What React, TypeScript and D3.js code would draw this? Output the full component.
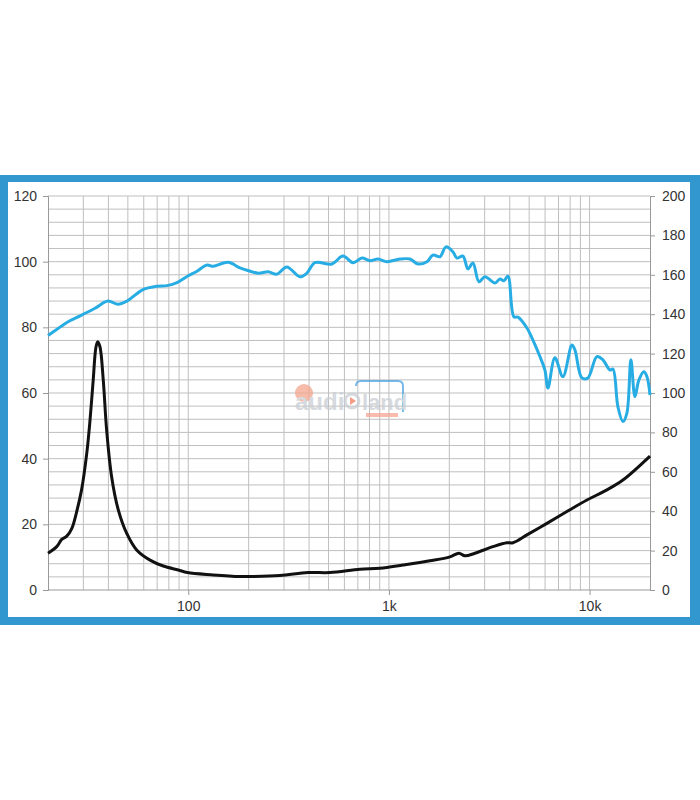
import React, { useEffect, useRef } from "react";
import * as d3 from "d3";

// frequency response (dB, left axis)
const splFreq = [20, 23.5, 25.7, 28.9, 34.3, 39.8, 44.7, 49.5, 59.5, 69.8, 78.3, 87.9, 100, 110, 124, 133, 158, 181, 198, 223, 250, 277, 310, 360, 390, 428, 520, 590, 662, 734, 804, 882, 978, 1135, 1273, 1395, 1547, 1657, 1796, 1924, 2084, 2182, 2338, 2476, 2622, 2809, 3010, 3375, 3574, 3743, 3919, 4197, 4395, 4872, 5220, 5656, 5990, 6198, 6718, 7362, 8166, 8452, 9158, 9812, 10876, 11652, 12626, 13070, 13842, 14656, 15344, 16066, 16822, 17610, 18648, 19302, 20000];
const splValue = [77.5, 80.5, 82, 83.5, 85.8, 88, 87, 88, 91.5, 92.5, 92.7, 93.6, 95.7, 97, 99, 98.6, 99.8, 98.1, 97.3, 96.5, 96.9, 96.2, 98.4, 95.4, 96.5, 99.7, 99.3, 101.7, 99.7, 101.1, 100.3, 100.8, 100, 100.8, 100.8, 99.3, 100, 102, 101.5, 104.5, 103, 101.1, 101.7, 97.8, 99.6, 93.9, 95.4, 93.5, 94.7, 94.2, 95.6, 83.2, 83.1, 79.8, 76.1, 71.1, 67, 61.5, 70.7, 65, 74.6, 73.1, 64.6, 64.6, 71.1, 70.1, 67, 67.3, 55.8, 51.3, 53.9, 70.1, 58.9, 64, 66.5, 65, 59.4];

// impedance curve (left axis units)
const impFreq = [20, 22.1, 23.4, 24.8, 26.3, 27.8, 29.4, 31.2, 32.4, 33.6, 34.7, 35.4, 36.3, 37.7, 39.2, 41.5, 44.8, 49.3, 55.3, 64.5, 75.1, 89.2, 99, 133, 181, 203, 286, 395, 508, 717, 902, 1174, 1601, 2014, 2233, 2392, 2683, 3298, 3873, 4150, 4872, 6128, 7709, 9699, 12198, 14656, 20000];
const impValue = [11.2, 13.2, 15.4, 16.4, 18.8, 23.9, 30.5, 41.6, 51.8, 64, 74.1, 75.6, 74.1, 64, 48.7, 34.5, 24.4, 17.3, 12.2, 9.1, 7.3, 6.1, 5.3, 4.6, 4.1, 4.1, 4.4, 5.3, 5.3, 6.3, 6.6, 7.6, 8.9, 10.1, 11.2, 10.4, 11.2, 13.2, 14.4, 14.4, 16.8, 20.3, 23.9, 27.4, 30.5, 33.5, 40.8];

const leftTicks = [0, 20, 40, 60, 80, 100, 120];
const rightTicks = [0, 20, 40, 60, 80, 100, 120, 140, 160, 180, 200];
const xTicks = [100, 1000, 10000];
const xTickLabels = ["100", "1k", "10k"];

const App: React.FC = () => {
  const svgRef = useRef<SVGSVGElement | null>(null);

  useEffect(() => {
    if (!svgRef.current) return;
    const svg = d3.select(svgRef.current);
    svg.selectAll("*").remove();

    const left = 48, right = 650, top = 196, bottom = 590;
    const font = "Liberation Sans, Arial, sans-serif";

    // frame
    svg.append("rect").attr("x", 0).attr("y", 175).attr("width", 700).attr("height", 450).attr("fill", "#3397cf");
    svg.append("rect").attr("x", 8).attr("y", 182).attr("width", 682).attr("height", 435).attr("fill", "#fff");

    const x = d3.scaleLog().domain([20, 20000]).range([left, right]);
    const y = d3.scaleLinear().domain([0, 120]).range([bottom, top]);
    const y2 = d3.scaleLinear().domain([0, 200]).range([bottom, top]);

    // grid
    const vLines: number[] = [];
    for (let dec = 10; dec <= 10000; dec *= 10) {
      for (let m = 1; m <= 9; m++) {
        const f = dec * m;
        if (f > 20 && f < 20000) vLines.push(f);
      }
    }
    svg.append("g").selectAll("line").data(vLines).enter().append("line")
      .attr("x1", d => x(d)).attr("x2", d => x(d)).attr("y1", top).attr("y2", bottom)
      .attr("stroke", "#bfbfbf").attr("stroke-width", 1);

    const hLines = d3.range(4, 120, 4);
    svg.append("g").selectAll("line").data(hLines).enter().append("line")
      .attr("x1", left).attr("x2", right).attr("y1", d => y(d)).attr("y2", d => y(d))
      .attr("stroke", "#bfbfbf").attr("stroke-width", 1);
    svg.append("line").attr("x1", left).attr("x2", right).attr("y1", top).attr("y2", top)
      .attr("stroke", "#bfbfbf");

    // axes
    const axisLeft = svg.append("g").attr("transform", `translate(${left},0)`)
      .call(d3.axisLeft(y).tickValues(leftTicks).tickSize(5).tickPadding(6));
    const axisRight = svg.append("g").attr("transform", `translate(${right},0)`)
      .call(d3.axisRight(y2).tickValues(rightTicks).tickSize(5).tickPadding(7));
    const axisBottom = svg.append("g").attr("transform", `translate(0,${bottom})`)
      .call(d3.axisBottom(x).tickValues(xTicks).tickFormat((_, i) => xTickLabels[i]).tickSize(5).tickPadding(6));

    [axisLeft, axisRight, axisBottom].forEach(a => {
      a.select(".domain").attr("stroke", "#999");
      a.selectAll(".tick line").attr("stroke", "#999");
      a.selectAll(".tick text").attr("fill", "#333").style("font-family", font).style("font-size", "14px");
    });
    axisBottom.select(".domain").attr("d", `M${left},0H${right}`);

    // watermark
    const wm = svg.append("g").attr("opacity", 0.75);
    wm.append("circle").attr("cx", 304).attr("cy", 393).attr("r", 9).attr("fill", "#f5a58e");
    wm.append("path").attr("d", "M356,386 Q356,381 361,381 H398 Q403,381 403,386 V412").attr("fill", "none").attr("stroke", "#4aa3e0").attr("stroke-width", 2);
    wm.append("text").attr("x", 295).attr("y", 410).text("audi")
      .style("font-family", font).style("font-size", "24px").style("font-weight", "bold").attr("fill", "#c9ced4");
    wm.append("circle").attr("cx", 352).attr("cy", 401).attr("r", 7).attr("fill", "none").attr("stroke", "#c9ced4").attr("stroke-width", 3);
    wm.append("path").attr("d", "M350,397 L356,401 L350,405 Z").attr("fill", "#f37b5d");
    wm.append("text").attr("x", 362).attr("y", 410).text("land")
      .style("font-family", font).style("font-size", "22px").style("font-weight", "bold").attr("fill", "#c9ced4");
    wm.append("rect").attr("x", 366).attr("y", 413).attr("width", 32).attr("height", 4).attr("fill", "#f6a594");

    // curves
    const line = d3.line<[number, number]>()
      .x(d => x(d[0])).y(d => y(d[1]))
      .curve(d3.curveCatmullRom.alpha(0.5));

    const spl: [number, number][] = splFreq.map((f, i) => [f, splValue[i]]);
    const imp: [number, number][] = impFreq.map((f, i) => [f, impValue[i]]);

    svg.append("path").attr("d", line(imp) ?? "").attr("fill", "none")
      .attr("stroke", "#111").attr("stroke-width", 3).attr("stroke-linejoin", "round");
    svg.append("path").attr("d", line(spl) ?? "").attr("fill", "none")
      .attr("stroke", "#27ade4").attr("stroke-width", 3).attr("stroke-linejoin", "round");
  }, []);

  return (
    <svg ref={svgRef} width={700} height={800}
      style={{ position: "absolute", left: 0, top: 0, background: "#fff" }} />
  );
};

export default App;
